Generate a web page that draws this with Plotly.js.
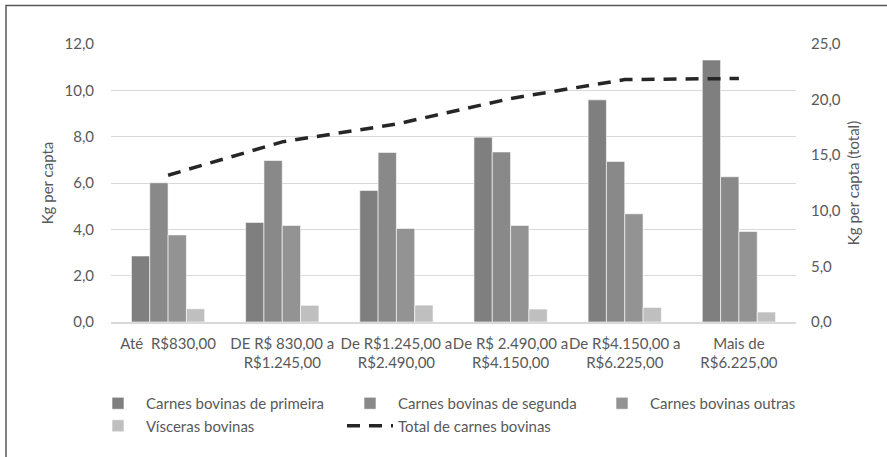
<!DOCTYPE html>
<html>
<head>
<meta charset="utf-8">
<script src="https://cdn.plot.ly/plotly-3.0.1.min.js"></script>
<style>html,body{margin:0;padding:0;background:#fff;}#chart{width:887px;height:457px;}</style>
</head>
<body>
<div id="chart"></div>
<script>
var categories = [
  "Até  R$830,00",
  "DE R$ 830,00 a<br>R$1.245,00",
  "De R$1.245,00 a<br>R$2.490,00",
  "De R$ 2.490,00 a<br>R$4.150,00",
  "De R$4.150,00 a<br>R$6.225,00",
  "Mais de<br>R$6.225,00"
];
var primeira = [2.85, 4.30, 5.68, 7.98, 9.59, 11.31];
var segunda  = [6.01, 6.97, 7.32, 7.34, 6.93, 6.27];
var outras   = [3.76, 4.17, 4.04, 4.17, 4.67, 3.91];
var visceras = [0.57, 0.72, 0.73, 0.56, 0.63, 0.43];
var total    = [13.2, 16.2, 17.8, 20.1, 21.8, 21.9];

var seriesNames = ["Carnes bovinas de primeira", "Carnes bovinas de segunda", "Carnes bovinas outras", "Vísceras bovinas", "Total de carnes bovinas"];
var barColors = ["#7f7f7f", "#898989", "#939393", "#bfbfbf"];
var barData = [primeira, segunda, outras, visceras];

var FONT = "Lato, 'Open Sans', sans-serif";
var FS = 15;
var traces = barData.map(function (vals, i) {
  return {
    type: "bar", name: seriesNames[i], x: categories, y: vals,
    marker: {color: barColors[i], line: {color: "#ffffff", width: 0.6}},
    hoverinfo: "x+y"
  };
});
traces.push({
  type: "scatter", mode: "lines", name: seriesNames[4], x: categories, y: total,
  yaxis: "y2", line: {color: "#262626", width: 3.5, dash: "13px,9px"}
});

var L = 111, R = 796, T = 44, B = 322;
var layout = {
  width: 887, height: 457,
  margin: {l: L, r: 887 - R, t: T, b: 457 - B, pad: 0, autoexpand: false},
  paper_bgcolor: "#ffffff", plot_bgcolor: "#ffffff",
  separators: ",.",
  font: {family: FONT, size: FS, color: "#595959"},
  barmode: "group", bargap: 0.358, bargroupgap: 0,
  showlegend: true,
  xaxis: {
    type: "category", showgrid: false, showline: true, linecolor: "#d9d9d9", linewidth: 1.5,
    ticks: "", tickangle: 0, tickfont: {family: FONT, size: FS, color: "#595959"}, ticklabelstandoff: 7,
    automargin: false
  },
  yaxis: {
    range: [0, 12], dtick: 2, tickformat: ".1f", showgrid: true, gridcolor: "#d9d9d9", gridwidth: 1,
    zeroline: false, ticks: "", ticklabelstandoff: 16,
    tickfont: {family: FONT, size: FS, color: "#595959"},
    title: {text: "Kg per capta", font: {family: FONT, size: FS, color: "#595959"}, standoff: 7},
    automargin: false
  },
  yaxis2: {
    overlaying: "y", side: "right", range: [0, 25], dtick: 5, tickformat: ".1f", showgrid: false,
    zeroline: false, ticks: "", ticklabelstandoff: 14,
    tickfont: {family: FONT, size: FS, color: "#595959"},
    title: {text: "Kg per capta (total)", font: {family: FONT, size: FS, color: "#595959"}, standoff: 8},
    automargin: false
  },
  legend: {
    orientation: "h", x: (90 - L) / (R - L), xanchor: "left", y: (B - 387) / (B - T), yanchor: "top",
    entrywidth: 191, entrywidthmode: "pixels", itemwidth: 46,
    font: {family: FONT, size: FS, color: "#595959"}, bgcolor: "rgba(0,0,0,0)", traceorder: "normal"
  },
  shapes: [{
    type: "rect", xref: "paper", yref: "paper",
    x0: (6 - L) / (R - L), x1: 2, y0: -2, y1: (B - 5.5) / (B - T),
    line: {color: "#595959", width: 1.5}, fillcolor: "rgba(0,0,0,0)", layer: "above"
  }]
};

Plotly.newPlot("chart", traces, layout, {displayModeBar: false, staticPlot: true});
</script>
</body>
</html>
